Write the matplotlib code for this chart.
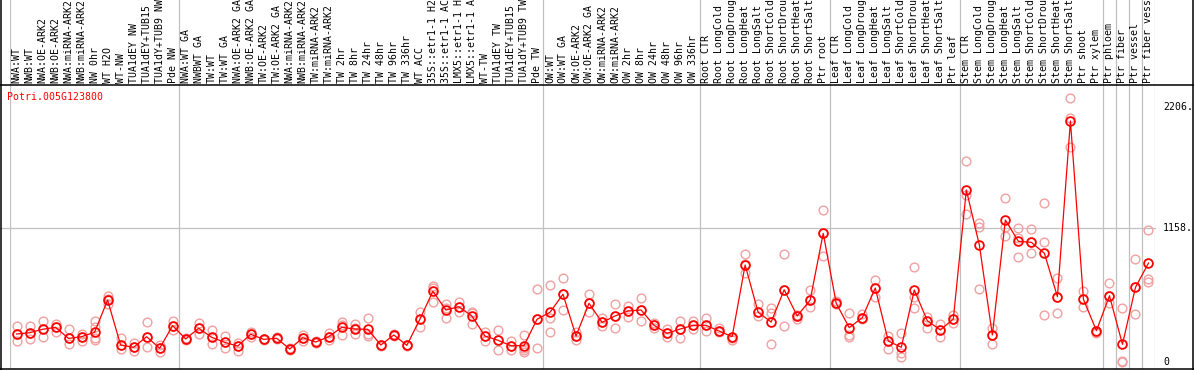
import matplotlib
matplotlib.use("Agg")
import matplotlib.pyplot as plt
from matplotlib.lines import Line2D
import matplotlib.transforms as mtransforms

# sample names, one per column
samples = [
    "NWA:WT", "NWB:WT", "NWA:OE-ARK2", "NWB:OE-ARK2", "NWA:miRNA-ARK2", "NWB:miRNA-ARK2",
    "NW 0hr", "WT H2O", "WT-NW", "TUA1dEY NW", "TUA1dEY+TUB15 NW", "TUA1dY+TUB9 NW", "Pde NW",
    "NWA:WT GA", "NWBWT GA", "TW:WT", "TW:WT GA", "NWA:OE-ARK2 GA", "NWB:OE-ARK2 GA",
    "TW:OE-ARK2", "TW:OE-ARK2 GA", "NWA:miRNA-ARK2", "NWB:miRNA-ARK2", "TW:miRNA-ARK2",
    "TW:miRNA-ARK2 GA", "TW 2hr", "TW 8hr", "TW 24hr", "TW 48hr", "TW 96hr", "TW 336hr", "WT ACC",
    "35S::etr1-1 H2O", "35S::etr1-1 ACC", "LMX5::etr1-1 H2O", "LMX5::etr1-1 ACC", "WT-TW",
    "TUA1dEY TW", "TUA1dEY+TUB15 TW", "TUA1dY+TUB9 TW", "Pde TW",
    "OW:WT", "OW:WT GA", "OW:OE-ARK2", "OW:OE-ARK2 GA", "OW:miRNA-ARK2", "OW:miRNA-ARK2",
    "OW 2hr", "OW 8hr", "OW 24hr", "OW 48hr", "OW 96hr", "OW 336hr",
    "Root CTR", "Root LongCold", "Root LongDrought", "Root LongHeat", "Root LongSalt",
    "Root ShortCold", "Root ShortDrought", "Root ShortHeat", "Root ShortSalt", "Ptr root",
    "Leaf CTR", "Leaf LongCold", "Leaf LongDrought", "Leaf LongHeat", "Leaf LongSalt",
    "Leaf ShortCold", "Leaf ShortDrought", "Leaf ShortHeat", "Leaf ShortSalt", "Ptr leaf",
    "Stem CTR", "Stem LongCold", "Stem LongDrought", "Stem LongHeat", "Stem LongSalt",
    "Stem ShortCold", "Stem ShortDrought", "Stem ShortHeat", "Stem ShortSalt", "Ptr shoot",
    "Ptr xylem", "Ptr phloem", "Ptr fiber", "Ptr vessel", "Ptr fiber vessel",
]

# number of samples in each separated block
group_sizes = [13, 28, 12, 10, 10, 11, 1, 1, 1, 1]

means = [242, 253, 283, 300, 204, 219, 257, 536, 147, 127, 219, 119, 314, 199, 292, 214,
         170, 138, 240, 196, 205, 112, 210, 173, 219, 300, 285, 283, 147, 234, 144, 369,
         612, 450, 478, 398, 225, 188, 141, 141, 369, 430, 586, 225, 508, 343, 398, 441,
         450, 317, 248, 285, 317, 317, 268, 219, 839, 430, 346, 625, 398, 536, 1113, 508,
         297, 383, 640, 182, 127, 623, 357, 277, 372, 1488, 1012, 234, 1228, 1044, 1035,
         940, 565, 2085, 542, 271, 573, 153, 646, 856]

reps = [
    [311, 182, 242], [311, 199, 253], [355, 216, 283], [329, 260, 300], [285, 156, 204],
    [242, 184, 219], [355, 305, 208, 190], [571, 545, 500], [208, 112, 147], [167, 95, 127],
    [343, 127, 219], [147, 89, 119], [355, 277, 314], [199, 205, 190], [337, 242, 292],
    [277, 156, 214], [227, 124, 170], [167, 98, 138], [262, 220, 240], [196, 200, 190],
    [205, 215, 196], [112, 120, 105], [234, 184, 210], [173, 180, 165], [251, 190, 219],
    [349, 234, 320], [326, 242, 290], [378, 227, 245], [147, 150, 140], [234, 240, 228],
    [144, 150, 138], [435, 305, 369], [660, 522, 640], [499, 378, 470], [522, 435, 478],
    [435, 326, 420], [262, 182, 225], [277, 104, 188], [182, 104, 141], [234, 89, 120, 100],
    [631, 119, 369], [666, 378, 257], [724, 450, 586], [262, 190, 225], [588, 435, 508],
    [383, 311, 343], [499, 292, 398], [484, 392, 441], [551, 355, 450], [340, 292, 317],
    [283, 219, 248], [355, 205, 285], [355, 283, 317], [378, 271, 317], [292, 260, 268],
    [190, 210, 219], [934, 767, 850], [502, 398, 430], [464, 426, 156], [934, 311, 625],
    [407, 369, 398], [623, 478, 536], [1315, 917, 1113], [528, 508, 500], [426, 234, 219],
    [413, 383, 370], [709, 565, 640], [225, 112, 182], [248, 46, 80], [819, 565, 464],
    [392, 292, 357], [329, 214, 277], [407, 335, 372], [1739, 1445, 1280], [1205, 1170, 629],
    [292, 153, 234], [1416, 1170, 1090], [1157, 1070, 911], [1150, 940, 1035], [1373, 1041, 404],
    [724, 421, 565], [2281, 2108, 1862], [614, 478, 542], [248, 271, 260], [681, 508, 573],
    [464, 9, 0], [888, 415, 646], [1142, 718, 689],
]

y_ticks = [0, 1158, 2206]
y_tick_labels = ["0", "1158.", "2206."]
gene = "Potri.005G123800"

W, H = 1194, 370
fig = plt.figure(figsize=(W / 100, H / 100), dpi=100)
fig.patch.set_facecolor("white")

# axes covers the plot columns over the full height (header included)
x0, x1 = 10, 1155
ax = fig.add_axes([x0 / W, 1 / H, (x1 - x0) / W, (H - 1) / H])
n = len(samples)
ax.set_xlim(-0.5, n - 0.5)
per_px = 2206 / 255.0
ax.set_ylim(-7 * per_px, 362 * per_px)
ax.axis("off")

xs = list(range(n))
mono = "DejaVu Sans Mono"
gray = "#c0c0c0"
fs = 7.1

# group separators
b = -0.5
ax.axvline(b, color=gray, lw=0.9)
for g in group_sizes:
    b += g
    ax.axvline(b, color=gray, lw=0.9)

# gridline at 1158
ax.axhline(1158, xmin=-x0 / (x1 - x0), xmax=1, color=gray, lw=0.9, clip_on=False)

# replicates
for i, r in enumerate(reps):
    ax.plot([i] * len(r), r, "o", ms=6.3, mfc="none", mec="#f0a0a0", mew=1.0, zorder=2)

ax.plot(xs, means, "-", color="#ff0000", lw=0.9, zorder=3)
ax.plot(xs, means, "o", ms=6.3, mfc="none", mec="#ff0000", mew=1.3, zorder=4)

# header labels
trans = mtransforms.blended_transform_factory(ax.transData, fig.transFigure)
for i, s in enumerate(samples):
    ax.text(i, (H - 83) / H, s, rotation=90, ha="center", va="bottom", family=mono,
            fontsize=fs, color="black", transform=trans, clip_on=False)

# y labels on the right
for v, t in zip(y_ticks, y_tick_labels):
    ax.text(n - 0.5 + 8 / 13.0, v, t, ha="left", va="center", family=mono, fontsize=fs,
            color="black", clip_on=False)

fig.text(7 / W, 1 - 97 / H, gene, color="#ff0000", family=mono, fontsize=fs,
         ha="left", va="center")

# frame lines
def fline(xa, ya, xb, yb):
    fig.add_artist(Line2D([xa / W, xb / W], [1 - ya / H, 1 - yb / H], color="black",
                          lw=1.1, transform=fig.transFigure))

fline(0, 85, W, 85)
fline(0, 369, W, 369)
fline(0.7, 0, 0.7, H)
fline(W - 1, 0, W - 1, H)

fig.savefig("out.png", dpi=100, facecolor="white")
